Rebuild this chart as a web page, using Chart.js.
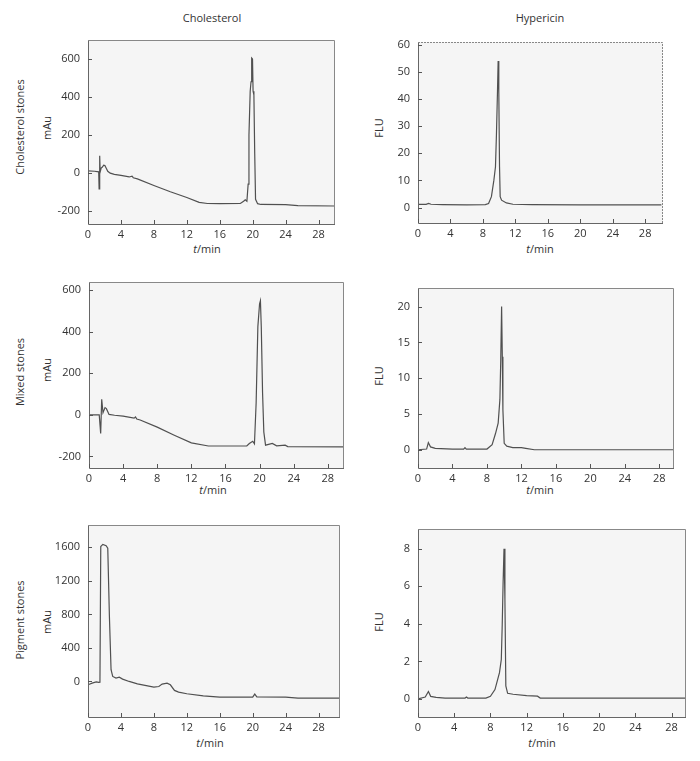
<!DOCTYPE html>
<html>
<head>
<meta charset="utf-8">
<script src="https://cdn.jsdelivr.net/npm/chart.js@4.4.0/dist/chart.umd.min.js"></script>
<style>
  body { margin: 0; background: #fff; font-family: "Open Sans", sans-serif; color: #333; }
  #page { position: relative; width: 700px; height: 761px; overflow: hidden; }
  canvas { position: absolute; }
  .lbl { position: absolute; font-size: 11px; white-space: nowrap; transform: translate(-50%, -50%); }
  .rot { transform: translate(-50%, -50%) rotate(-90deg); }
</style>
</head>
<body>
<div id="page">
  <div class="lbl" style="left:212px;top:17px">Cholesterol</div>
  <div class="lbl" style="left:540px;top:17px">Hypericin</div>

  <div class="lbl rot" style="left:19px;top:127px">Cholesterol stones</div>
  <div class="lbl rot" style="left:19px;top:372px">Mixed stones</div>
  <div class="lbl rot" style="left:19px;top:620px">Pigment stones</div>

  <div class="lbl rot" style="left:46px;top:128px">mAu</div>
  <div class="lbl rot" style="left:46px;top:370px">mAu</div>
  <div class="lbl rot" style="left:46px;top:622px">mAu</div>
  <div class="lbl rot" style="left:378px;top:128px">FLU</div>
  <div class="lbl rot" style="left:378px;top:376px">FLU</div>
  <div class="lbl rot" style="left:378px;top:622px">FLU</div>

  <div class="lbl" style="left:207px;top:248px"><i>t</i>/min</div>
  <div class="lbl" style="left:540px;top:248px"><i>t</i>/min</div>
  <div class="lbl" style="left:213px;top:489px"><i>t</i>/min</div>
  <div class="lbl" style="left:540px;top:489px"><i>t</i>/min</div>
  <div class="lbl" style="left:210px;top:742px"><i>t</i>/min</div>
  <div class="lbl" style="left:542px;top:742px"><i>t</i>/min</div>
</div>
<script>
// --- data (t in min) ---
const timeTicks = [0, 4, 8, 12, 16, 20, 24, 28];

const cholStonesCholT = [0, 0.8, 1.3, 1.35, 1.42, 1.48, 1.6, 1.75, 1.9, 2.05, 2.2, 2.4, 2.7, 3.2, 4, 5, 5.35, 5.5, 6, 8, 10, 12, 13.5, 14.5, 16, 18.5, 18.9, 19.1, 19.3, 19.45, 19.55, 19.7, 19.8, 19.88, 19.98, 20.05, 20.15, 20.25, 20.35, 20.6, 21, 24, 25.5, 30];
const cholStonesCholY = [10, 8, 5, -85, 90, 5, 25, 30, 40, 38, 25, 8, -2, -8, -14, -22, -18, -26, -32, -67, -100, -130, -156, -162, -163, -162, -150, -142, -150, -60, 200, 430, 480, 605, 600, 430, 410, 100, -140, -163, -167, -168, -173, -175];
const cholStonesCholTicks = [-200, 0, 200, 400, 600];

const cholStonesHypT = [0, 1.0, 1.3, 1.6, 3, 6, 8.3, 8.7, 9.05, 9.35, 9.55, 9.67, 9.8, 9.88, 9.96, 10.05, 10.13, 10.3, 10.9, 11.7, 14, 20, 30];
const cholStonesHypY = [1.2, 1.2, 1.5, 1.2, 1.1, 1.0, 1.1, 1.5, 4, 10, 15, 27, 43, 54, 43, 15, 4, 2.7, 1.7, 1.2, 1.1, 1.0, 1.0];
const cholStonesHypTicks = [0, 10, 20, 30, 40, 50, 60];

const mixedCholT = [0, 1.2, 1.37, 1.49, 1.64, 1.88, 2.04, 2.35, 3, 4, 5.3, 5.45, 5.6, 6, 8, 10, 12, 14, 18.5, 18.8, 19.2, 19.4, 19.6, 19.8, 20.0, 20.1, 20.2, 20.35, 20.5, 20.7, 21.5, 22, 23, 23.3, 30];
const mixedCholY = [0, 0, -90, 75, 10, 35, 30, 2, -2, -6, -16, -10, -20, -25, -59, -98, -135, -150, -150, -138, -127, -140, 60, 425, 535, 550, 425, 108, -83, -146, -138, -149, -146, -153, -154];
const mixedCholTicks = [-200, 0, 200, 400, 600];

const mixedHypT = [0, 1.0, 1.2, 1.45, 2, 4, 5.3, 5.45, 5.6, 8, 8.6, 9.0, 9.3, 9.5, 9.6, 9.7, 9.78, 9.85, 10.0, 10.3, 11, 12, 12.5, 13.5, 20, 29.7];
const mixedHypY = [0, 0.1, 1.0, 0.4, 0.2, 0.1, 0.1, 0.3, 0.1, 0.1, 0.7, 2.3, 3.7, 7, 12.5, 20, 13, 5.6, 0.9, 0.5, 0.3, 0.3, 0.2, 0, 0, 0];
const mixedHypTicks = [0, 5, 10, 15, 20];

const pigmentCholT = [0, 0.5, 1.0, 1.3, 1.45, 1.55, 1.8, 2.2, 2.4, 2.6, 2.8, 3.0, 3.4, 3.8, 4.2, 5, 6, 8, 8.6, 9.0, 9.6, 10.0, 10.5, 11, 12, 14, 16, 20, 20.25, 20.5, 24, 25.5, 30.6];
const pigmentCholY = [-40, -20, -5, -12, -10, 1610, 1635, 1620, 1590, 775, 140, 60, 40, 50, 28, 0, -28, -67, -60, -32, -20, -40, -107, -127, -147, -171, -187, -187, -151, -183, -187, -198, -198];
const pigmentCholTicks = [0, 400, 800, 1200, 1600];

const pigmentHypT = [0, 0.8, 1.15, 1.4, 2, 3, 5.2, 5.35, 5.5, 7.5, 8, 8.5, 9.0, 9.2, 9.3, 9.4, 9.5, 9.6, 9.7, 9.9, 10.5, 12, 13.2, 13.5, 20, 29.6];
const pigmentHypY = [0, 0.1, 0.4, 0.14, 0.09, 0.05, 0.05, 0.1, 0.05, 0.05, 0.14, 0.5, 1.4, 2.1, 3.9, 6.2, 8.0, 5.3, 0.7, 0.3, 0.25, 0.18, 0.15, 0.05, 0.05, 0.05];
const pigmentHypTicks = [0, 2, 4, 6, 8];

// --- panel frame: grey plot area, border, inward tick marks ---
const framePlugin = {
  id: 'frame',
  beforeDraw(chart) {
    const a = chart.chartArea, ctx = chart.ctx;
    ctx.save();
    ctx.fillStyle = '#f5f5f5';
    ctx.fillRect(a.left, a.top, a.right - a.left, a.bottom - a.top);
    ctx.restore();
  },
  afterDraw(chart, args, opts) {
    const a = chart.chartArea, ctx = chart.ctx;
    ctx.save();
    ctx.lineWidth = 1;
    ctx.strokeStyle = '#666';
    ctx.beginPath();
    ctx.moveTo(a.left + 0.5, a.top);
    ctx.lineTo(a.left + 0.5, a.bottom + 0.5);
    ctx.lineTo(a.right, a.bottom + 0.5);
    ctx.stroke();
    ctx.strokeStyle = '#888';
    if (opts.dashed) ctx.setLineDash([2, 1]);
    ctx.beginPath();
    ctx.moveTo(a.left, a.top + 0.5);
    ctx.lineTo(a.right - 0.5, a.top + 0.5);
    ctx.lineTo(a.right - 0.5, a.bottom);
    ctx.stroke();
    ctx.setLineDash([]);
    ctx.strokeStyle = '#555';
    ctx.beginPath();
    chart.scales.x.ticks.forEach(t => {
      const px = Math.round(chart.scales.x.getPixelForValue(t.value)) + 0.5;
      ctx.moveTo(px, a.bottom);
      ctx.lineTo(px, a.bottom - 4);
    });
    chart.scales.y.ticks.forEach(t => {
      const py = Math.round(chart.scales.y.getPixelForValue(t.value)) + 0.5;
      ctx.moveTo(a.left, py);
      ctx.lineTo(a.left + 4, py);
    });
    ctx.stroke();
    ctx.restore();
  }
};

function makePanel(t, y, yTicks, box, xMax, yMin, yMax, dashed) {
  const [L, T, R, B] = box;
  const canvas = document.createElement('canvas');
  let w = R - L + 60, h = B - T + 48;
  canvas.width = w;
  canvas.height = h;
  document.getElementById('page').appendChild(canvas);

  const tickFont = { family: '"Open Sans", sans-serif', size: 11 };
  const chart = new Chart(canvas.getContext('2d'), {
    type: 'line',
    data: {
      datasets: [{
        data: t.map((v, i) => ({ x: v, y: y[i] })),
        borderColor: '#505050',
        borderWidth: 1.2,
        pointRadius: 0,
        tension: 0,
        fill: false
      }]
    },
    options: {
      responsive: false,
      maintainAspectRatio: false,
      animation: false,
      layout: { padding: { top: 20, right: 10, left: 0, bottom: 0 } },
      plugins: { legend: { display: false }, tooltip: { enabled: false }, frame: { dashed } },
      scales: {
        x: {
          type: 'linear', min: 0, max: xMax,
          afterBuildTicks: s => { s.ticks = timeTicks.map(v => ({ value: v })); },
          afterFit: s => { s.height = 22; },
          grid: { display: false, drawTicks: false }, border: { display: false },
          ticks: { padding: 4, font: tickFont, color: '#333', maxRotation: 0, callback: v => String(v) }
        },
        y: {
          type: 'linear', min: yMin, max: yMax,
          afterBuildTicks: s => { s.ticks = yTicks.map(v => ({ value: v })); },
          afterFit: s => { s.width = 48; },
          grid: { display: false, drawTicks: false }, border: { display: false },
          ticks: { padding: 8, font: tickFont, color: '#333', callback: v => String(v) }
        }
      }
    },
    plugins: [framePlugin]
  });

  // nudge the canvas so the plot area lands on the reference box
  for (let i = 0; i < 3; i++) {
    const a = chart.chartArea;
    const dw = (R - L) - (a.right - a.left), dh = (B - T) - (a.bottom - a.top);
    if (Math.abs(dw) < 0.5 && Math.abs(dh) < 0.5) break;
    w += dw; h += dh;
    chart.resize(w, h);
  }
  const a = chart.chartArea;
  canvas.style.left = (L - a.left) + 'px';
  canvas.style.top = (T - a.top) + 'px';
}

makePanel(cholStonesCholT, cholStonesCholY, cholStonesCholTicks, [88, 40, 335, 224], 30, -270, 700, false);
makePanel(cholStonesHypT, cholStonesHypY, cholStonesHypTicks, [418, 42, 663, 223], 30.2, -5.7, 61, true);
makePanel(mixedCholT, mixedCholY, mixedCholTicks, [89, 282, 344, 468], 29.9, -256, 640, false);
makePanel(mixedHypT, mixedHypY, mixedHypTicks, [418, 288, 674, 468], 29.7, -2.55, 22.6, false);
makePanel(pigmentCholT, pigmentCholY, pigmentCholTicks, [88, 525, 340, 717], 30.6, -424, 1866, false);
makePanel(pigmentHypT, pigmentHypY, pigmentHypTicks, [418, 529, 686, 717], 29.6, -0.96, 9.05, false);
</script>
</body>
</html>
